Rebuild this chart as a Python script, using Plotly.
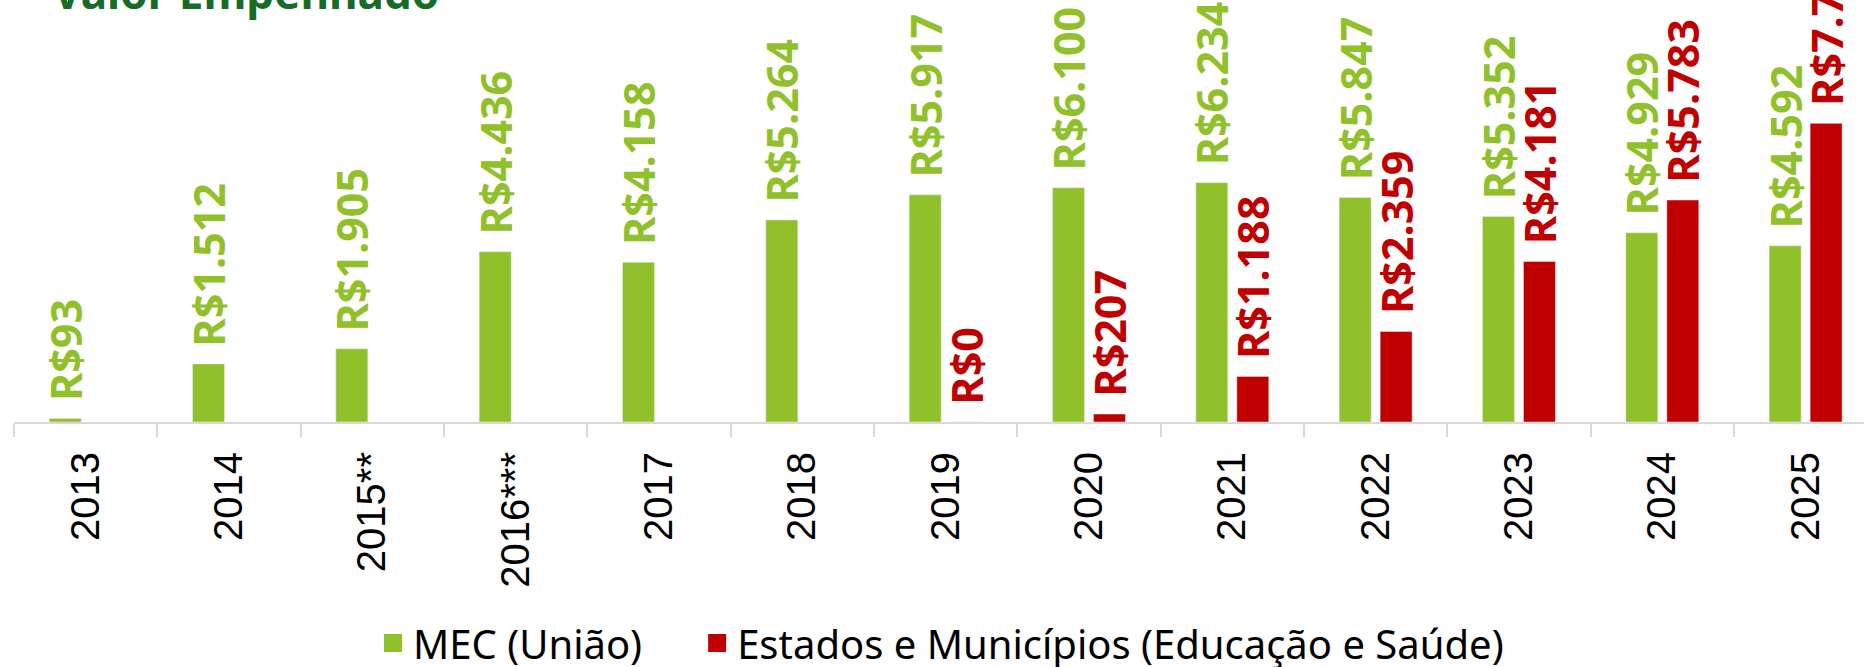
import plotly.graph_objects as go

years = ["2013", "2014", "2015**", "2016***", "2017", "2018", "2019",
         "2020", "2021", "2022", "2023", "2024", "2025"]
mec_values = [93, 1512, 1905, 4436, 4158, 5264, 5917, 6100, 6234, 5847, 5352, 4929, 4592]
estados_values = [None, None, None, None, None, None, 0, 207, 1188, 2359, 4181, 5783, 7780]

mec_name = "MEC (União)"
estados_name = "Estados e Municípios (Educação e Saúde)"
title_text = "Valor Empenhado"

GREEN = "#91C12A"
RED = "#C00000"
TITLE_GREEN = "#176B26"

label_font = dict(family="Open Sans", size=43, weight="bold")

fig = go.Figure()
fig.add_trace(go.Bar(
    x=years, y=mec_values, name=mec_name, marker_color=GREEN,
    texttemplate="\u2004R$%{y:,.0f}", textposition="outside", textangle=-90,
    constraintext="none", cliponaxis=False,
    textfont=dict(color=GREEN, **label_font), showlegend=False,
))
fig.add_trace(go.Bar(
    x=years, y=estados_values, name=estados_name, marker_color=RED,
    texttemplate="\u2004R$%{y:,.0f}", textposition="outside", textangle=-90,
    constraintext="none", cliponaxis=False,
    textfont=dict(color=RED, **label_font), showlegend=False,
))
# legend entries
for nm, col in [(mec_name + "\u2003\u2005", GREEN), (estados_name, RED)]:
    fig.add_trace(go.Scatter(
        x=[None], y=[None], name=nm, mode="markers",
        marker=dict(symbol="square", size=16, color=col, line=dict(width=2, color=col)),
    ))

W, H = 1864, 667
base_px = 422
px_per_unit = 0.03839
cat_px = 143.33

fig.update_layout(
    width=W, height=H,
    margin=dict(l=14, r=0, t=0, b=H - base_px, pad=0),
    paper_bgcolor="white", plot_bgcolor="white",
    barmode="group", bargap=0.428, bargroupgap=0.22,
    separators=",.",
    title=dict(text=f"<b>{title_text}</b>", xref="container", yref="container",
               x=53 / W, xanchor="left", y=1 - 9 / H, yanchor="bottom",
               font=dict(family="Noto Sans", size=44, color=TITLE_GREEN)),
    legend=dict(orientation="h", xref="container", yref="container",
                x=373 / W, xanchor="left", y=1 - 643 / H, yanchor="middle",
                font=dict(family="Noto Sans", size=40, color="#000000"),
                bgcolor="rgba(0,0,0,0)"),
    xaxis=dict(
        type="category", range=[-0.5, -0.5 + (W - 14) / cat_px],
        showline=True, linecolor="#D9D9D9", linewidth=2,
        ticks="outside", tickson="boundaries", ticklen=13, tickwidth=2, tickcolor="#D9D9D9",
        tickangle=-90, ticklabelstandoff=12,
        tickfont=dict(family="Liberation Sans", size=40, color="#000000"),
        showgrid=False, zeroline=False, automargin=False, fixedrange=True,
    ),
    yaxis=dict(range=[0, base_px / px_per_unit], visible=False, showgrid=False,
               zeroline=False, automargin=False, fixedrange=True),
    showlegend=True,
)

fig.write_html("out.html", config={"displayModeBar": False},
               post_script="document.body.style.margin='0';document.body.style.overflow='hidden';")
